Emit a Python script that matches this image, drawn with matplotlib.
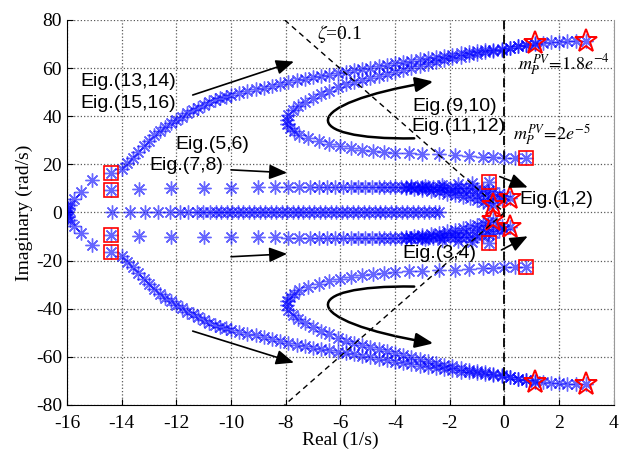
import numpy as np
import matplotlib
matplotlib.use("Agg")
import matplotlib.pyplot as plt
from matplotlib.path import Path
from matplotlib.patches import FancyArrowPatch


# ============================================================
# DATA (upper half, lower half is the complex conjugate)
# ============================================================

# Eig.(13,14) / Eig.(15,16): outer branch
outer = [(-16.0, 0.6), (-15.95, 1.8), (-15.9, 3.1), (-15.75, 5.5), (-15.5, 8.6),
         (-15.1, 13.5), (-14.4, 16.3), (-14.0, 18.2), (-13.8, 20.4), (-13.6, 22.6),
         (-13.4, 25.0), (-13.2, 27.5), (-13.0, 29.8), (-12.8, 32.0), (-12.6, 33.8),
         (-12.4, 35.4), (-12.2, 37.0), (-12.0, 38.4), (-11.8, 39.8), (-11.6, 41.2),
         (-11.4, 42.4), (-11.2, 43.6), (-11.0, 44.8), (-10.8, 45.8), (-10.6, 46.7),
         (-10.4, 47.5), (-10.2, 48.1), (-10.0, 48.7), (-9.7, 49.5), (-9.4, 50.3),
         (-9.1, 51.1), (-8.8, 51.9), (-8.5, 52.7), (-8.2, 53.5), (-7.9, 54.3),
         (-7.6, 55.0), (-7.3, 55.6), (-7.0, 56.2), (-6.7, 56.8), (-6.4, 57.3),
         (-6.1, 57.8), (-5.8, 58.4), (-5.5, 59.0), (-5.2, 59.6), (-4.9, 60.2),
         (-4.6, 60.8), (-4.3, 61.4), (-4.0, 62.0), (-3.7, 62.5), (-3.4, 63.0),
         (-3.1, 63.6), (-2.8, 64.1), (-2.5, 64.6), (-2.2, 65.1), (-1.9, 65.6),
         (-1.6, 66.1), (-1.3, 66.5), (-1.0, 66.9), (-0.7, 67.3), (-0.4, 67.7),
         (-0.1, 68.1), (0.2, 68.5), (0.5, 69.0), (0.8, 69.5), (1.1, 70.0),
         (1.4, 70.4), (1.7, 70.7), (2.0, 70.9), (2.3, 71.1), (2.6, 71.3), (3.0, 71.4)]

# Eig.(9,10) / Eig.(11,12): inner parabola
inner = [(0.8, 22.5), (0.4, 22.6), (0.0, 22.8), (-0.4, 23.0), (-0.8, 23.2),
         (-1.3, 23.5), (-1.8, 23.8), (-2.4, 24.1), (-3.0, 24.3), (-3.5, 24.5),
         (-4.0, 24.8), (-4.4, 25.1), (-4.8, 25.5), (-5.2, 26.1), (-5.6, 26.8),
         (-6.0, 27.6), (-6.4, 28.5), (-6.8, 29.6), (-7.2, 30.8), (-7.5, 32.2),
         (-7.7, 33.7), (-7.85, 35.3), (-7.95, 36.9), (-7.95, 38.4), (-7.9, 40.5),
         (-7.75, 42.5), (-7.55, 44.3), (-7.3, 46.0), (-7.0, 47.6), (-6.7, 49.1),
         (-6.4, 50.5), (-6.1, 52.0), (-5.8, 53.3), (-5.5, 54.3), (-5.2, 55.2),
         (-4.9, 56.0), (-4.6, 56.8), (-4.3, 57.6), (-4.0, 58.5), (-3.7, 59.4),
         (-3.4, 60.2), (-3.1, 61.0), (-2.8, 61.8), (-2.5, 62.6), (-2.2, 63.3),
         (-1.9, 64.0), (-1.6, 64.7), (-1.3, 65.3), (-1.0, 65.9), (-0.7, 66.5),
         (-0.4, 67.1), (-0.1, 67.7), (0.2, 68.3), (0.5, 69.0), (0.8, 69.7), (1.1, 70.4)]

# Eig.(5,6) / Eig.(7,8): row near 10 rad/s
row = [(-14.4, 9.3), (-13.35, 9.8), (-12.2, 10.0), (-11.0, 10.2), (-10.0, 10.3),
       (-9.0, 10.4), (-8.4, 10.4), (-7.9, 10.5), (-7.5, 10.5), (-7.1, 10.5),
       (-6.8, 10.5), (-6.5, 10.5), (-6.2, 10.5), (-5.9, 10.5), (-5.6, 10.5),
       (-5.35, 10.5), (-5.1, 10.5), (-4.85, 10.5), (-4.6, 10.5), (-4.4, 10.5),
       (-4.2, 10.5), (-4.0, 10.5), (-3.8, 10.5), (-3.6, 10.5), (-3.4, 10.5),
       (-3.2, 10.5), (-3.0, 10.5), (-2.8, 10.5), (-2.6, 10.5), (-2.4, 10.4),
       (-2.2, 10.4), (-2.0, 10.3), (-1.8, 10.3), (-1.6, 10.2), (-1.4, 10.1),
       (-1.2, 10.0), (-1.0, 9.8), (-0.8, 9.5), (-0.6, 9.1), (-0.4, 8.5),
       (-0.2, 7.8), (0.0, 6.9), (0.2, 6.0)]

tongue_low = [(-3.6, 10.2), (-3.3, 9.8), (-3.0, 9.4), (-2.7, 8.9), (-2.4, 8.4),
              (-2.1, 7.8), (-1.8, 7.2), (-1.5, 6.5), (-1.25, 5.8), (-1.0, 5.1),
              (-0.8, 4.4), (-0.6, 3.8), (-0.4, 3.2)]

tongue_mid = [(-3.0, 10.1), (-2.6, 9.7), (-2.2, 9.2), (-1.8, 8.7), (-1.4, 8.1),
              (-1.0, 7.4), (-0.7, 6.7), (-0.4, 6.0), (-0.1, 5.5)]

# Eig.(1,2): branch leaving the square near -0.5
near = [(-0.55, 12.8), (-1.2, 12.2), (-1.7, 11.9), (-2.3, 11.5), (-2.9, 11.1), (-3.4, 10.8)]

# real-axis row
axis_re = [-14.37, -13.70, -13.15, -12.66, -12.23, -11.87, -11.57, -11.26, -11.02,
           -10.77, -10.55, -10.35, -10.15, -9.95, -9.75, -9.55, -9.35, -9.15, -8.95,
           -8.75, -8.55, -8.35, -8.15, -7.95, -7.75, -7.55, -7.35, -7.15, -6.95,
           -6.75, -6.55, -6.35, -6.15, -5.95, -5.75, -5.55, -5.35, -5.15, -4.95,
           -4.75, -4.55, -4.35, -4.15, -3.95, -3.75, -3.55, -3.35, -3.15, -2.95,
           -2.75, -2.55, -2.4]

# start (m_P^PV = 2e-5) and end (m_P^PV = 1.8e-4) points
start_re = [-14.4, -14.4, -0.55, 0.8]
start_im = [16.3, 9.3, 12.8, 22.5]
end_re = [1.1, 3.0, 0.2, -0.4]
end_im = [70.4, 71.4, 6.0, 3.2]

zeta = 0.1


# ============================================================
# PLOT
# ============================================================

plt.rcParams["font.family"] = ["Liberation Serif", "DejaVu Serif"]
plt.rcParams["mathtext.fontset"] = "stix"
plt.rcParams["axes.unicode_minus"] = False

fig = plt.figure(figsize=(6.2, 4.53), dpi=100)
ax = fig.add_axes([0.108, 0.106, 0.882, 0.850])

ast = (8, 2, 0)
mstyle = dict(linestyle="none", marker=ast, markersize=10, color="blue",
              alpha=0.6, markeredgewidth=1.0)

for branch in [outer, inner, row, tongue_low, tongue_mid, near]:
    re = np.array([p[0] for p in branch])
    im = np.array([p[1] for p in branch])
    ax.plot(re, im, **mstyle)
    ax.plot(re, -im, **mstyle)

ax.plot(axis_re, np.zeros(len(axis_re)), **mstyle)

# squares and stars
sre = np.array(start_re)
sim = np.array(start_im)
ax.plot(np.r_[sre, sre], np.r_[sim, -sim], linestyle="none", marker="s",
        markersize=9.5, markerfacecolor="none", markeredgecolor="red",
        markeredgewidth=1.2)
ere = np.array(end_re)
eim = np.array(end_im)
ax.plot(np.r_[ere, ere], np.r_[eim, -eim], linestyle="none", marker="*",
        markersize=17, markerfacecolor="none", markeredgecolor="red",
        markeredgewidth=1.4)

# imaginary axis and damping line
ax.axvline(0, color="k", linestyle=(0, (5, 3)), linewidth=1.3)
wn = 80 / np.sqrt(1 - zeta ** 2)
ax.plot([-zeta * wn, 0, -zeta * wn], [80, 0, -80], color="k",
        linestyle=(0, (4, 3)), linewidth=1.0)

# straight arrows
aprops = dict(arrowstyle="-|>,head_length=0.6,head_width=0.25",
              color="k", lw=1.2, mutation_scale=18, shrinkA=0, shrinkB=0)
arrows = [((-11.4, 48.8), (-7.7, 62.7)),
          ((-10.0, 17.7), (-7.95, 16.5)),
          ((-10.0, -18.4), (-7.95, -17.2)),
          ((-11.4, -49.3), (-7.7, -62.4)),
          ((-0.17, 14.9), (0.85, 10.4)),
          ((-0.11, -15.6), (0.85, -9.9))]
for (x0, y0), (x1, y1) in arrows:
    ax.annotate("", xy=(x1, y1), xytext=(x0, y0), arrowprops=aprops)

# curved arrows
for s in [1, -1]:
    verts = [(-3.3, 30.8 * s), (-7.6, 30.0 * s), (-7.6, 45.0 * s), (-2.6, 54.4 * s)]
    path = Path(verts, [Path.MOVETO, Path.CURVE4, Path.CURVE4, Path.CURVE4])
    arr = FancyArrowPatch(path=path, arrowstyle="-|>,head_length=0.6,head_width=0.25",
                          color="k", lw=1.8, mutation_scale=18)
    ax.add_patch(arr)

# labels
sans = dict(family=["Liberation Sans", "DejaVu Sans"], fontsize=14, va="center")
ax.text(-15.5, 54.4, "Eig.(13,14)", **sans)
ax.text(-15.5, 45.4, "Eig.(15,16)", **sans)
ax.text(-12.05, 28.1, "Eig.(5,6)", **sans)
ax.text(-12.97, 19.5, "Eig.(7,8)", **sans)
ax.text(-3.35, 44.0, "Eig.(9,10)", **sans)
ax.text(-3.4, 35.7, "Eig.(11,12)", **sans)
ax.text(0.55, 5.2, "Eig.(1,2)", **sans)
ax.text(-3.75, -17.0, "Eig.(3,4)", **sans)

ax.text(-6.85, 74.0, r"$\zeta$=0.1", fontsize=14, va="center")
ax.text(0.5, 61.3, r"$m_P^{PV}\!=\!1.8e^{-4}$", fontsize=13, va="center")
ax.text(0.3, 32.2, r"$m_P^{PV}\!=\!2e^{-5}$", fontsize=13, va="center")

ax.set_xlim(-16, 4)
ax.set_ylim(-80, 80)
ax.set_xticks(range(-16, 5, 2))
ax.set_yticks(range(-80, 81, 20))
ax.tick_params(direction="in", labelsize=14, length=4,
               labelfontfamily="Liberation Serif")
ax.tick_params(axis="x", pad=7)
ax.grid(True, linestyle=":", color="0.35", linewidth=0.9)
ax.spines["top"].set_visible(False)
ax.spines["right"].set_color("0.6")
ax.set_xlabel("Real (1/s)", fontsize=14, labelpad=0)
ax.set_ylabel("Imaginary (rad/s)", fontsize=14, labelpad=2)

plt.savefig("out.png", dpi=100)
